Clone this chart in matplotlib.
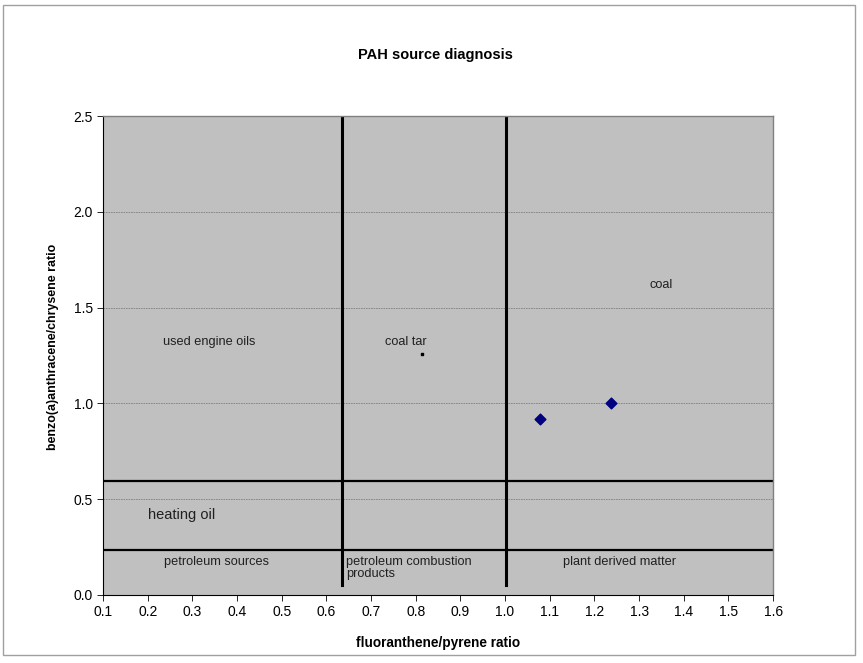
import matplotlib.pyplot as plt
from matplotlib.patches import Rectangle

# sample points
fl_py = [1.078, 1.237]
baa_chr = [0.918, 1.004]

# small stray point near "coal tar"
stray_x = [0.814]
stray_y = [1.258]

# boundary lines between source regions
vert_x = [0.635, 1.003]
vert_y0, vert_y1 = 0.05, 2.55
horiz_y = [0.595, 0.235]

region_labels = ["used engine oils", "coal tar", "coal", "heating oil",
                 "petroleum sources", "plant derived matter"]
label_x = [0.337, 0.778, 1.35, 0.275, 0.355, 1.257]
label_y = [1.32, 1.32, 1.62, 0.415, 0.17, 0.17]

fig = plt.figure(figsize=(8.63, 6.63), dpi=100)
fig.patches.append(Rectangle((0.003, 0.012), 0.988, 0.98, transform=fig.transFigure,
                             fill=False, edgecolor='#a0a0a0', linewidth=1))
ax = fig.add_axes([0.1194, 0.1026, 0.7764, 0.7224])
ax.set_facecolor('#c0c0c0')

ax.yaxis.grid(True, color='#808080', linestyle=(0, (2, 1)), linewidth=0.6)
ax.set_axisbelow(True)

for x in vert_x:
    ax.plot([x, x], [vert_y0, vert_y1], color='black', linewidth=2.2, clip_on=True)
for y in horiz_y:
    ax.axhline(y, color='black', linewidth=1.6)

ax.scatter(fl_py, baa_chr, marker='D', s=30, color='#000080', zorder=5)
ax.scatter(stray_x, stray_y, marker='s', s=1.5, color='black', zorder=5)

for t, x, y in zip(region_labels, label_x, label_y):
    fs = 10.5 if t == "heating oil" else 9.2
    ax.text(x, y, t, ha='center', va='center', fontsize=fs, color='#202020',
            family='Liberation Sans')
ax.text(0.645, 0.14, "petroleum combustion\nproducts", ha='left', va='center',
        fontsize=9.2, color='#202020', family='Liberation Sans', linespacing=1.0)

ax.set_xlim(0.1, 1.6)
ax.set_ylim(0, 2.5)
ax.set_xticks([0.1 + 0.1 * i for i in range(16)])
ax.set_xticklabels(['%.1f' % (0.1 + 0.1 * i) for i in range(16)])
ax.set_yticks([0, 0.5, 1.0, 1.5, 2.0, 2.5])
ax.set_yticklabels(['0.0', '0.5', '1.0', '1.5', '2.0', '2.5'])
ax.tick_params(labelsize=10, length=4, width=0.6, color='black', direction='out')
for lbl in ax.get_xticklabels() + ax.get_yticklabels():
    lbl.set_family('Liberation Sans')

for s in ['top', 'right']:
    ax.spines[s].set_color('#808080')
    ax.spines[s].set_linewidth(1)
for s in ['left', 'bottom']:
    ax.spines[s].set_color('black')
    ax.spines[s].set_linewidth(0.8)

ax.set_xlabel('fluoranthene/pyrene ratio', fontsize=9.8, fontweight='bold',
              family='Liberation Sans', labelpad=12)
ax.set_ylabel('benzo(a)anthracene/chrysene ratio', fontsize=8.9, fontweight='bold',
              family='Liberation Sans')
ax.yaxis.set_label_coords(-0.066, 0.518)
fig.text(0.504, 0.917, 'PAH source diagnosis', ha='center', va='center',
         fontsize=10.5, fontweight='bold', family='Liberation Sans')

fig.savefig('out.png', dpi=100)
